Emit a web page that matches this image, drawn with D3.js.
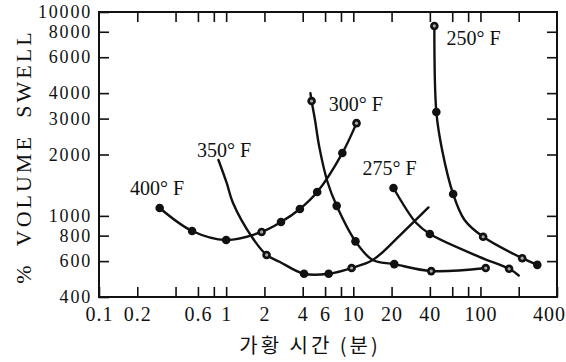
<!DOCTYPE html>
<html>
<head>
<meta charset="utf-8">
<script src="https://cdn.jsdelivr.net/npm/d3@7"></script>
<style>
  body { margin: 0; background: #fff; }
  svg text { font-family: "Liberation Serif", "DejaVu Serif", serif; fill: #111; }
</style>
</head>
<body>
<svg id="chart" width="566" height="362"></svg>
<script>
// tick values
const xTickMarks = [0.2, 0.4, 0.6, 0.8, 1, 2, 4, 6, 8, 10, 20, 40, 60, 80, 100, 200];
const xTickLabels = [0.1, 0.2, 0.6, 1, 2, 4, 6, 10, 20, 40, 100, 400];
const yTickMarks = [600, 800, 1000, 2000, 3000, 4000, 6000, 8000];
const yTickLabels = [400, 600, 800, 1000, 2000, 3000, 4000, 6000, 8000, 10000];

// cure time (min) / % volume swell / marker (0 none, 1 dot, 2 ring)
const t250 = [43.4, 45, 50, 61, 75, 105, 213, 280];
const v250 = [8540, 3230, 2100, 1280, 955, 790, 620, 575];
const m250 = [2, 1, 0, 1, 0, 2, 2, 1];

const t275 = [20.7, 31.3, 40, 98, 168, 200];
const v275 = [1370, 922, 815, 630, 550, 510];
const m275 = [1, 0, 1, 0, 2, 0];

const t300 = [4.6, 4.7, 5.0, 5.4, 6.27, 7.4, 10.4, 14.2, 21, 41, 110];
const v300 = [4000, 3660, 2950, 2180, 1466, 1120, 750, 607, 580, 536, 555];
const m300 = [0, 2, 0, 0, 0, 1, 1, 0, 1, 2, 2];

const t350 = [0.87, 1.01, 1.13, 1.59, 2.08, 2.65, 4.1, 6.4, 9.7, 14.2, 23.6, 39];
const v350 = [1880, 1450, 1160, 790, 643, 594, 520, 520, 555, 607, 810, 1100];
const m350 = [0, 0, 0, 0, 2, 0, 1, 1, 2, 0, 0, 0];

const t400 = [0.3, 0.54, 1.0, 1.9, 2.7, 3.8, 5.2, 8.2, 10.6];
const v400 = [1093, 843, 762, 834, 933, 1081, 1309, 2033, 2850];
const m400 = [1, 1, 1, 2, 1, 1, 1, 1, 2];

const seriesNames = ["250° F", "275° F", "300° F", "350° F", "400° F"];
const labelT = [54, 11.8, 6.4, 0.59, 0.175];
const labelV = [6890, 1590, 3270, 1944, 1265];

const series = [
  {t: t250, v: v250, m: m250},
  {t: t275, v: v275, m: m275},
  {t: t300, v: v300, m: m300},
  {t: t350, v: v350, m: m350},
  {t: t400, v: v400, m: m400}
].map((s, i) => ({
  name: seriesNames[i],
  lt: labelT[i], lv: labelV[i],
  points: s.t.map((t, j) => ({t: t, v: s.v[j], m: s.m[j]}))
}));

const svg = d3.select("#chart");
const box = {left: 99, right: 557, top: 12, bottom: 297};

const x = d3.scaleLog().domain([0.1, 400]).range([box.left, box.right]);
const y = d3.scaleLog().domain([400, 10000]).range([box.bottom, box.top]);

const fmt = d => String(d);

// bottom axis (ticks point up into the plot)
const xAxis = svg.append("g")
    .attr("transform", `translate(0,${box.bottom})`)
    .call(d3.axisBottom(x)
        .tickValues(xTickMarks.concat(xTickLabels.filter(v => !xTickMarks.includes(v))))
        .tickSize(-10).tickSizeOuter(0).tickPadding(10)
        .tickFormat(d => xTickLabels.includes(d) ? fmt(d) : ""));
xAxis.selectAll("text")
    .style("font-size", "20px")
    .style("letter-spacing", "1px");
// last label sits just inside the page edge, as in the print
xAxis.selectAll("text").filter(d => d === 400).attr("dx", -8);

// top ticks
svg.append("g")
    .attr("transform", `translate(0,${box.top})`)
    .call(d3.axisTop(x).tickValues(xTickMarks).tickSize(-10).tickSizeOuter(0).tickFormat(""));

// left axis
const yAxis = svg.append("g")
    .attr("transform", `translate(${box.left},0)`)
    .call(d3.axisLeft(y)
        .tickValues(yTickLabels)
        .tickSize(-10).tickSizeOuter(0).tickPadding(7)
        .tickFormat(fmt));
yAxis.selectAll("text")
    .style("font-size", "18px")
    .style("letter-spacing", "1.8px");

// right ticks
svg.append("g")
    .attr("transform", `translate(${box.right},0)`)
    .call(d3.axisRight(y).tickValues(yTickMarks).tickSize(-10).tickSizeOuter(0).tickFormat(""));

svg.selectAll(".domain").remove();
svg.selectAll(".tick line").attr("stroke", "#111").attr("stroke-width", 1.6);

// frame
svg.append("rect")
    .attr("x", box.left).attr("y", box.top)
    .attr("width", box.right - box.left).attr("height", box.bottom - box.top)
    .attr("fill", "none").attr("stroke", "#111").attr("stroke-width", 2);

// curves
const line = d3.line()
    .x(d => x(d.t)).y(d => y(d.v))
    .curve(d3.curveCatmullRom.alpha(0.5));

const g = svg.append("g");
g.selectAll("path.curve").data(series).join("path")
    .attr("class", "curve")
    .attr("d", d => line(d.points))
    .attr("fill", "none")
    .attr("stroke", "#111")
    .attr("stroke-width", 2.4)
    .attr("stroke-linecap", "round");

const marks = g.selectAll("g.pt")
    .data(series.flatMap(s => s.points.filter(p => p.m > 0)))
    .join("g")
    .attr("class", "pt")
    .attr("transform", d => `translate(${x(d.t)},${y(d.v)})`);
marks.append("circle").attr("r", 4.3).attr("fill", "#111");
marks.filter(d => d.m === 2).append("circle").attr("r", 1.6).attr("fill", "#aaa");

// curve labels
g.selectAll("text.lab").data(series).join("text")
    .attr("class", "lab")
    .attr("x", d => x(d.lt))
    .attr("y", d => y(d.lv))
    .style("font-size", "20px")
    .text(d => d.name);

// axis titles
svg.append("text")
    .attr("transform", `translate(31,${(box.top + box.bottom) / 2 + 2}) rotate(-90)`)
    .attr("text-anchor", "middle")
    .style("font-size", "22px")
    .style("letter-spacing", "3px")
    .style("word-spacing", "8px")
    .text("% VOLUME SWELL");

svg.append("text")
    .attr("x", 310).attr("y", 353)
    .attr("text-anchor", "middle")
    .style("font-family", "'Noto Sans CJK KR', sans-serif")
    .style("font-size", "20px")
    .style("letter-spacing", "3px")
    .text("가황 시간 (분)");
</script>
</body>
</html>
